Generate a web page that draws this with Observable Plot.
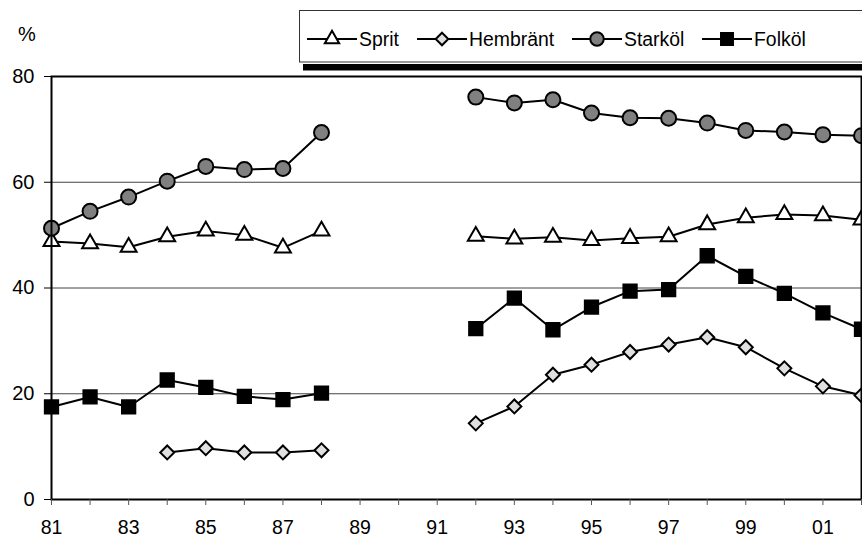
<!DOCTYPE html>
<html>
<head>
<meta charset="utf-8">
<script src="https://cdn.jsdelivr.net/npm/d3@7"></script>
<script src="https://cdn.jsdelivr.net/npm/@observablehq/plot@0.6"></script>
<style>
  html, body { margin: 0; padding: 0; background: white; }
  #wrap { position: relative; width: 862px; height: 539px; overflow: hidden; font-family: "Liberation Sans", Arial, sans-serif; }
  #pct { position: absolute; left: 18px; top: 23px; font-size: 20px; color: black; }
  #legend { position: absolute; left: 0; top: 0; }
</style>
</head>
<body>
<div id="wrap">
  <div id="chart"></div>
  <div id="pct">%</div>
  <svg id="legend" width="862" height="76"></svg>
</div>
<script>
const years = [1981, 1982, 1983, 1984, 1985, 1986, 1987, 1988, 1989, 1990, 1991,
               1992, 1993, 1994, 1995, 1996, 1997, 1998, 1999, 2000, 2001, 2002];
const xTickLabels = ["81","","83","","85","","87","","89","","91","",
                     "93","","95","","97","","99","","01",""];
const yTicks = [0, 20, 40, 60, 80];
const gridLines = [20, 40, 60];

const seriesNames = ["Sprit", "Hembränt", "Starköl", "Folköl"];
const sprit    = [48.8, 48.4, 47.7, 49.7, 50.8, 50.0, 47.6, 50.8, null, null, null,
                  49.8, 49.3, 49.6, 49.0, 49.4, 49.7, 52.0, 53.3, 53.9, 53.7, 52.9];
const hembrant = [null, null, null, 8.9, 9.7, 8.9, 8.9, 9.3, null, null, null,
                  14.4, 17.6, 23.6, 25.5, 27.9, 29.3, 30.7, 28.8, 24.8, 21.4, 19.7];
const starkol  = [51.3, 54.5, 57.2, 60.2, 63.0, 62.4, 62.6, 69.4, null, null, null,
                  76.1, 75.0, 75.6, 73.1, 72.2, 72.1, 71.2, 69.8, 69.5, 69.0, 68.8];
const folkol   = [17.5, 19.4, 17.5, 22.6, 21.2, 19.5, 18.9, 20.1, null, null, null,
                  32.3, 38.1, 32.1, 36.4, 39.4, 39.7, 46.1, 42.2, 39.0, 35.3, 32.2];

const styles = [
  {symbol: "triangle", fill: "white",   r: 5.9},
  {symbol: "diamond2", fill: "#e0e0e0", r: 6.3},
  {symbol: "circle",   fill: "#808080", r: 7.5},
  {symbol: "square",   fill: "black",   r: 7.5}
];
const seriesValues = [sprit, hembrant, starkol, folkol];
const legendX = [307, 417, 572, 702];

const series = seriesNames.map((name, k) => ({
  name,
  style: styles[k],
  rows: years.map((yr, i) => ({year: yr, value: seriesValues[k][i]}))
}));

const FONT = "'Liberation Sans', Arial, sans-serif";

const marks = [
  Plot.ruleY(gridLines, {stroke: "#444", strokeWidth: 1}),
  ...series.map(s => Plot.lineY(s.rows, {x: "year", y: "value", stroke: "black", strokeWidth: 2})),
  ...series.map(s => Plot.dot(s.rows.filter(d => d.value != null), {
    x: "year", y: "value", symbol: s.style.symbol, r: s.style.r,
    fill: s.style.fill, stroke: "black", strokeWidth: 2
  })),
  Plot.frame({stroke: "black", strokeWidth: 2}),
  Plot.axisX({ticks: years, tickSize: 6, tickPadding: 15, stroke: "#555", fontSize: 19.5, fontFamily: FONT,
              tickFormat: (d) => xTickLabels[years.indexOf(d)], label: null}),
  Plot.axisY({ticks: yTicks, tickSize: 7, tickPadding: 10, stroke: "black", fontSize: 20, fontFamily: FONT, label: null})
];

const chart = Plot.plot({
  width: 862,
  height: 539,
  marginLeft: 51,
  marginRight: 1,
  marginTop: 76,
  marginBottom: 40,
  x: {domain: [1981, 2002]},
  y: {domain: [0, 80]},
  style: {fontFamily: FONT, fontSize: "20px", color: "black", background: "white"},
  marks
});
document.getElementById("chart").appendChild(chart);

// Legend
const lg = d3.select("#legend");
lg.append("rect").attr("x", 303).attr("y", 64).attr("width", 700).attr("height", 6.5).attr("fill", "black");
lg.append("rect").attr("x", 299.5).attr("y", 10.5).attr("width", 700).attr("height", 51.5)
  .attr("fill", "white").attr("stroke", "#333").attr("stroke-width", 1);
const symMap = {triangle: d3.symbolTriangle, diamond2: d3.symbolDiamond2, circle: d3.symbolCircle, square: d3.symbolSquare};
const cy = 39;
series.forEach((s, k) => {
  const xpos = legendX[k];
  const g = lg.append("g");
  g.append("line").attr("x1", xpos).attr("x2", xpos + 50).attr("y1", cy).attr("y2", cy)
    .attr("stroke", "black").attr("stroke-width", 2);
  const size = Math.PI * (s.style.r * 0.9) ** 2;
  g.append("path").attr("d", d3.symbol(symMap[s.style.symbol], size)())
    .attr("transform", `translate(${xpos + 25},${cy})`)
    .attr("fill", s.style.fill).attr("stroke", "black").attr("stroke-width", 2);
  g.append("text").attr("x", xpos + 52).attr("y", 45.7)
    .attr("font-family", FONT).attr("font-size", 19.4)
    .attr("fill", "black").text(s.name);
});
</script>
</body>
</html>
